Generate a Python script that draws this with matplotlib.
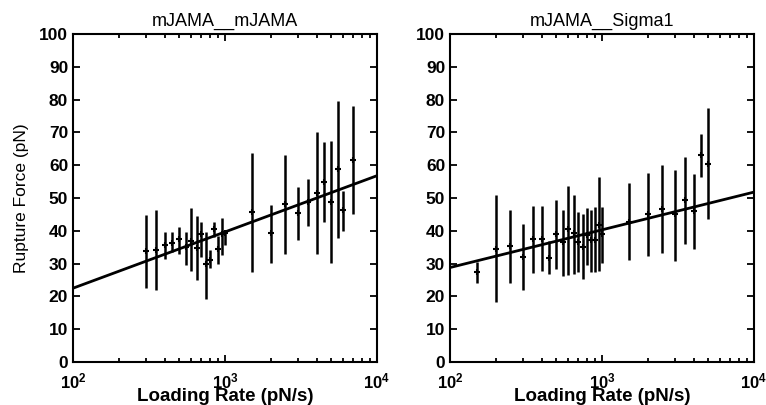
import numpy as np
import matplotlib
matplotlib.use("Agg")
import matplotlib.pyplot as plt
from matplotlib.ticker import FixedLocator, FixedFormatter, LogLocator, NullFormatter

plt.rcParams['font.family'] = ['Liberation Sans', 'DejaVu Sans']
plt.rcParams['mathtext.fontset'] = 'custom'
plt.rcParams['mathtext.bf'] = 'Liberation Sans:bold'
plt.rcParams['mathtext.rm'] = 'Liberation Sans'

# mJAMA__mJAMA
rate_a = [300, 350, 400, 450, 500, 550, 600, 650, 700, 750, 800, 850, 900, 950, 1000,
          1500, 2000, 2500, 3000, 3500, 4000, 4500, 5000, 5500, 6000, 7000]
force_a = [33.7, 34.0, 35.6, 36.3, 37.6, 35.0, 37.0, 34.8, 38.9, 29.8, 31.2, 40.7, 34.5, 38.9, 39.2,
           45.7, 39.3, 48.2, 45.4, 48.9, 51.5, 55.0, 48.9, 58.7, 46.2, 61.7]
low_a = [22.5, 21.9, 31.3, 33.5, 32.8, 29.5, 27.7, 25.1, 32.0, 19.3, 28.8, 38.2, 30.0, 32.5, 35.6,
         27.4, 30.3, 33.0, 37.1, 41.6, 32.8, 42.6, 30.2, 37.9, 39.9, 45.2]
high_a = [44.7, 46.2, 39.6, 39.5, 41.3, 39.6, 46.9, 44.4, 42.7, 39.6, 34.2, 42.7, 38.3, 44.0, 39.8,
          63.6, 48.0, 63.1, 53.5, 55.8, 70.0, 67.0, 67.5, 79.6, 52.1, 78.0]
fit_a = [22.5, 56.8]  # force at 1e2 and 1e4

# mJAMA__Sigma1
rate_b = [150, 200, 250, 300, 350, 400, 450, 500, 550, 600, 650, 700, 750, 800, 850, 900, 950, 1000,
          1500, 2000, 2500, 3000, 3500, 4000, 4500, 5000]
force_b = [27.5, 34.3, 35.3, 32.1, 37.4, 37.6, 31.8, 39.1, 36.5, 40.4, 39.4, 36.5, 35.0, 38.6, 37.3, 37.3, 41.9, 38.9,
           42.7, 45.1, 46.7, 45.0, 49.3, 46.0, 63.1, 60.3]
low_b = [24.1, 18.3, 24.1, 21.9, 27.2, 27.8, 26.8, 28.5, 26.1, 26.6, 26.7, 27.3, 25.4, 29.5, 27.4, 27.3, 27.8, 30.2,
         31.2, 32.2, 33.3, 30.7, 36.0, 34.5, 56.3, 43.5]
high_b = [30.5, 50.8, 46.4, 42.1, 47.7, 47.7, 36.9, 49.5, 46.2, 53.8, 50.8, 45.7, 45.0, 47.0, 46.4, 47.2, 56.3, 47.2,
          54.6, 57.7, 60.1, 58.5, 62.4, 57.2, 69.6, 77.3]
fit_b = [28.8, 51.8]

W, H = 766, 405
fig = plt.figure(figsize=(W / 100, H / 100), dpi=100)


def panel(rect, title, rate, force, low, high, fit, ylabel=None):
    ax = fig.add_axes(rect)
    rate = np.array(rate)
    force = np.array(force)
    yerr = [force - np.array(low), np.array(high) - force]
    ax.errorbar(rate, force, yerr=yerr, fmt='+', color='black', ecolor='black',
                elinewidth=1.8, capsize=0, markersize=5, markeredgewidth=1.5)
    ax.plot([1e2, 1e4], fit, color='black', lw=2)
    ax.set_xscale('log')
    ax.set_xlim(1e2, 1e4)
    ax.set_ylim(0, 100)
    ax.xaxis.set_major_locator(FixedLocator([1e2, 1e3, 1e4]))
    ax.xaxis.set_major_formatter(FixedFormatter([r'$\mathbf{10^{2}}$', r'$\mathbf{10^{3}}$', r'$\mathbf{10^{4}}$']))
    ax.xaxis.set_minor_locator(LogLocator(base=10, subs=np.arange(2, 10)))
    ax.xaxis.set_minor_formatter(NullFormatter())
    ax.set_yticks(np.arange(0, 101, 10))
    ax.tick_params(which='both', direction='in', top=True, right=True, width=1.3)
    ax.tick_params(which='major', length=5, labelsize=12.5)
    ax.tick_params(axis='x', which='major', pad=6.5, labelsize=12)
    ax.tick_params(which='minor', length=3)
    for lab in ax.get_yticklabels():
        lab.set_fontweight('bold')
    for s in ax.spines.values():
        s.set_linewidth(1.5)
    ax.set_title(title, fontsize=13, pad=6)
    ax.set_xlabel('Loading Rate (pN/s)', fontsize=13.5, fontweight='bold')
    ax.xaxis.set_label_coords(0.5, -0.08)
    if ylabel:
        ax.set_ylabel(ylabel, fontsize=12.5, labelpad=7)
    return ax


bottom = (H - 362) / H
height = (362 - 34) / H
panel([73 / W, bottom, 304 / W, height], 'mJAMA__mJAMA', rate_a, force_a, low_a, high_a, fit_a,
      ylabel='Rupture Force (pN)')
panel([450 / W, bottom, 304 / W, height], 'mJAMA__Sigma1', rate_b, force_b, low_b, high_b, fit_b)

fig.savefig('out.png', dpi=100)
